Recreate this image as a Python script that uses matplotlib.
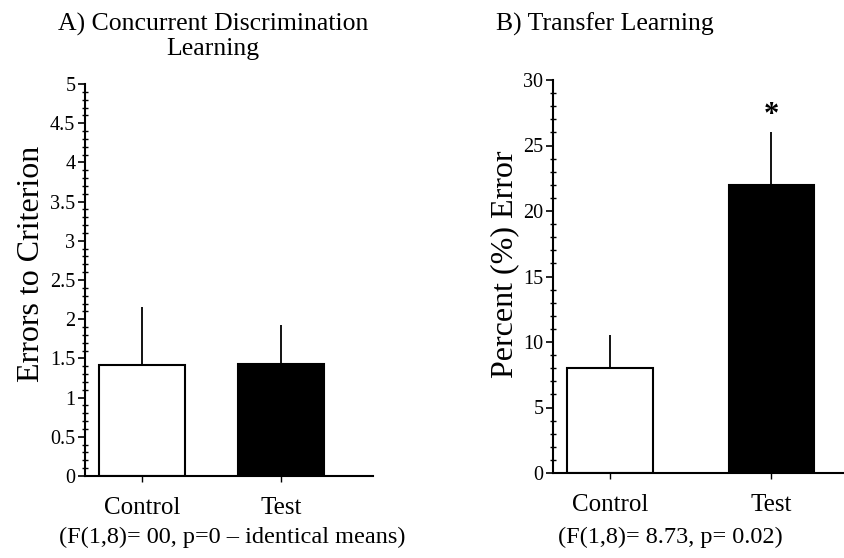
import numpy as np
import matplotlib
matplotlib.use("Agg")
import matplotlib.pyplot as plt
from matplotlib.ticker import MultipleLocator

plt.rcParams["font.family"] = ["Liberation Serif", "DejaVu Serif"]

groups = ["Control", "Test"]
colors_bar = ["white", "black"]

# A) concurrent discrimination learning
errors_mean = [1.42, 1.43]
errors_sem = [0.74, 0.50]
# B) transfer learning
pct_mean = [8.0, 22.0]
pct_sem = [2.5, 4.0]

stats_a = "(F(1,8)= 00, p=0 \u2013 identical means)"
stats_b = "(F(1,8)= 8.73, p= 0.02)"

W, H = 844, 558
fig = plt.figure(figsize=(W / 100, H / 100), dpi=100)

axA = fig.add_axes([85 / W, 1 - 476 / H, 288 / W, 392 / H])
axB = fig.add_axes([553 / W, 1 - 473 / H, 291 / W, 393 / H])


def draw(ax, mean, sem, width, xlim, ylim, major, minor):
    x = np.arange(len(groups))
    ax.bar(x, mean, width=width, color=colors_bar, edgecolor="black", linewidth=1.5, zorder=2)
    ax.errorbar(x, mean, yerr=[np.zeros(len(sem)), sem], fmt="none", ecolor="black",
                elinewidth=1.3, capsize=0, zorder=1)
    ax.set_xlim(*xlim); ax.set_ylim(*ylim)
    ax.set_xticks(x); ax.set_xticklabels(groups, fontsize=18)
    ax.yaxis.set_major_locator(MultipleLocator(major))
    ax.yaxis.set_minor_locator(MultipleLocator(minor))
    for s in ("top", "right"):
        ax.spines[s].set_visible(False)
    for s in ("left", "bottom"):
        ax.spines[s].set_linewidth(1.5)
    ax.tick_params(axis="y", which="major", direction="out", length=5, width=1.2, labelsize=14.5, pad=2)
    ax.tick_params(axis="y", which="minor", direction="inout", length=4, width=1.0)
    ax.tick_params(axis="x", direction="out", length=4, width=1.0, pad=11)


draw(axA, errors_mean, errors_sem, 0.62, (-0.41, 1.66), (0, 5), 0.5, 0.1)
axA.set_yticks(np.arange(0, 5.01, 0.5))
axA.set_yticklabels(["0", "0.5", "1", "1.5", "2", "2.5", "3", "3.5", "4", "4.5", "5"])
axA.set_ylabel("Errors to Criterion", fontsize=23, va="center")
axA.yaxis.set_label_coords(-0.185, 0.54)

draw(axB, pct_mean, pct_sem, 0.53, (-0.354, 1.45), (0, 30), 5, 1)
axB.set_ylabel("Percent (%) Error", fontsize=23, va="center")
axB.yaxis.set_label_coords(-0.165, 0.53)
axB.text(1, pct_mean[1] + pct_sem[1] + 0.2, "*", ha="center", va="bottom",
         fontsize=22, fontweight="bold")

fig.text(213 / W, 1 - 30.5 / H, "A) Concurrent Discrimination", ha="center", va="baseline", fontsize=18.5)
fig.text(213 / W, 1 - 55.5 / H, "Learning", ha="center", va="baseline", fontsize=18.5)
fig.text(605 / W, 1 - 30.5 / H, "B) Transfer Learning", ha="center", va="baseline", fontsize=18.5)

fig.text(232 / W, 1 - 543 / H, stats_a, ha="center", va="baseline", fontsize=17.5)
fig.text(670 / W, 1 - 543 / H, stats_b, ha="center", va="baseline", fontsize=17.5)

fig.savefig("out.png", dpi=100)
